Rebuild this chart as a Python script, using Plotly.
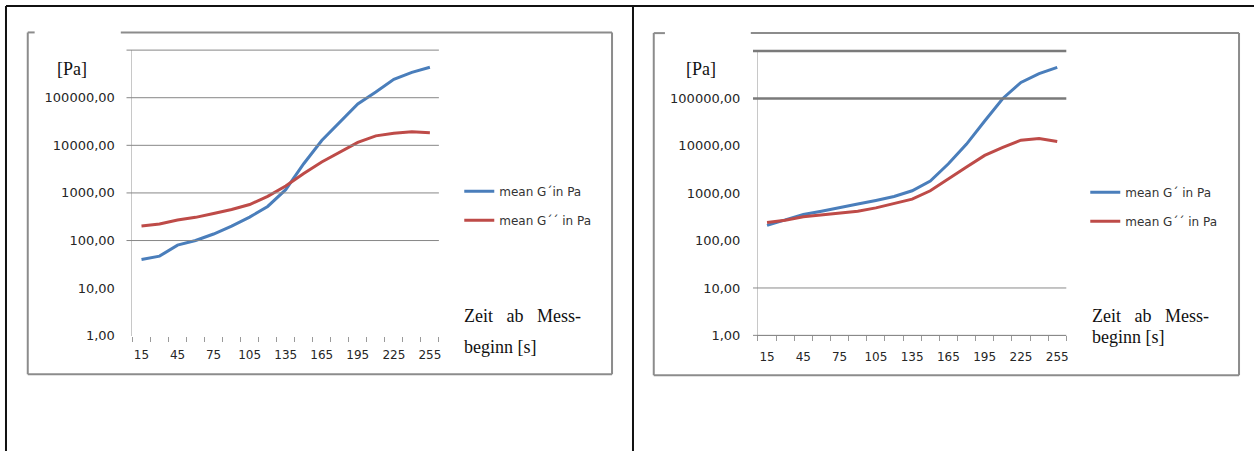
import plotly.graph_objects as go

W, H = 1256, 459

# Time since start of measurement [s]
time_s = [15, 30, 45, 60, 75, 90, 105, 120, 135, 150, 165, 180, 195, 210, 225, 240, 255]

# Left sample: mean storage (G') and loss (G'') modulus in Pa
left_g_storage = [40, 47, 80, 100, 137, 200, 310, 520, 1170, 4100, 12600, 30000,
                  74000, 132000, 244000, 340000, 437000]
left_g_loss = [203, 222, 270, 307, 371, 450, 570, 850, 1400, 2560, 4470, 7200,
               11500, 15800, 18000, 19300, 18400]

# Right sample
right_g_storage = [210, 272, 357, 418, 489, 590, 705, 855, 1126, 1810, 4190, 10900,
                   33500, 100000, 218000, 335000, 455000]
right_g_loss = [240, 268, 318, 350, 374, 418, 490, 600, 750, 1125, 2040, 3580,
                6280, 9300, 13200, 14300, 12400]

left_names = ["mean G\u00b4in Pa", "mean G\u00b4\u00b4 in Pa"]
right_names = ["mean G\u00b4 in Pa", "mean G\u00b4\u00b4 in Pa"]

y_tickvals = [1, 10, 100, 1000, 10000, 100000]
y_ticktext = ["1,00", "10,00", "100,00", "1000,00", "10000,00", "100000,00"]
x_tickvals = [15, 45, 75, 105, 135, 165, 195, 225, 255]

BLUE = "#4a7ebb"
RED = "#be4b48"


def px(x):
    return x / W


def py(y):
    return 1 - y / H


fig = go.Figure()

fig.add_trace(go.Scatter(x=time_s, y=left_g_storage, mode="lines", name=left_names[0],
                         line=dict(color=BLUE, width=3), xaxis="x", yaxis="y",
                         legend="legend", legendgroup="a"))
fig.add_trace(go.Scatter(x=time_s, y=left_g_loss, mode="lines", name=left_names[1],
                         line=dict(color=RED, width=3), xaxis="x", yaxis="y",
                         legend="legend", legendgroup="b"))
fig.add_trace(go.Scatter(x=time_s, y=right_g_storage, mode="lines", name=right_names[0],
                         line=dict(color=BLUE, width=3), xaxis="x2", yaxis="y2",
                         legend="legend2", legendgroup="c"))
fig.add_trace(go.Scatter(x=time_s, y=right_g_loss, mode="lines", name=right_names[1],
                         line=dict(color=RED, width=3), xaxis="x2", yaxis="y2",
                         legend="legend2", legendgroup="d"))

tick_font = dict(family="DejaVu Sans", size=12, color="#262626")


def xaxis_cfg(domain, anchor, show_line):
    return dict(
        domain=domain, anchor=anchor, range=[7.5, 262.5],
        tickmode="array", tickvals=x_tickvals, ticks="", showgrid=False,
        zeroline=False, showline=show_line, linecolor="#8a8a8a", linewidth=1,
        tickfont=tick_font, ticklabelstandoff=10,
        minor=dict(tick0=7.5, dtick=15, ticks="outside", ticklen=5,
                   tickcolor="#9a9a9a", tickwidth=1, showgrid=False),
    )


def yaxis_cfg(domain, anchor):
    return dict(
        domain=domain, anchor=anchor, type="log", range=[0, 6],
        tickmode="array", tickvals=y_tickvals, ticktext=y_ticktext, ticks="",
        showgrid=False, zeroline=False, showline=True, linecolor="#c8c8c8",
        linewidth=1, tickfont=dict(family="DejaVu Sans", size=13, color="#262626"),
        ticklabelstandoff=14,
    )


fig.update_layout(
    width=W, height=H, margin=dict(l=0, r=0, t=0, b=0),
    paper_bgcolor="white", plot_bgcolor="white",
    xaxis=xaxis_cfg([px(132.7), px(439.6)], "y", False),
    yaxis=yaxis_cfg([py(341.7), py(51)], "x"),
    xaxis2=xaxis_cfg([px(759.2), px(1068)], "y2", True),
    yaxis2=yaxis_cfg([py(341.3), py(52)], "x2"),
    legend=dict(x=px(460), y=py(180), xanchor="left", yanchor="top",
                font=dict(family="DejaVu Sans", size=12, color="#333333"),
                bgcolor="rgba(0,0,0,0)", tracegroupgap=10, itemwidth=30),
    legend2=dict(x=px(1087), y=py(181), xanchor="left", yanchor="top",
                 font=dict(family="DejaVu Sans", size=12, color="#333333"),
                 bgcolor="rgba(0,0,0,0)", tracegroupgap=10, itemwidth=30),
    showlegend=True,
)

shapes = []

# Horizontal gridlines per decade (with the short outer tick left of the axis)
left_grid = [2, 3, 4, 5, 6]
right_grid = [(0, 1, "#8a8a8a"), (1, 1, "#8a8a8a"), (5, 2.5, "#7a7a7a"), (6, 2.5, "#7a7a7a")]
for k in left_grid:
    shapes.append(dict(type="line", xref="x domain", yref="y domain",
                       x0=-6 / 307, x1=1, y0=k / 6, y1=k / 6,
                       line=dict(color="#878787", width=1)))
for k, w, c in right_grid:
    shapes.append(dict(type="line", xref="x2 domain", yref="y2 domain",
                       x0=-5 / 309, x1=1, y0=k / 6, y1=k / 6,
                       line=dict(color=c, width=w)))


def frame(x0, x1, y0, y1, gap0, gap1):
    c = dict(color="#8c8c8c", width=2)
    segs = [
        (x0, y0, gap0, y0), (gap1, y0, x1, y0),
        (x0, y0, x0, y1), (x1, y0, x1, y1), (x0, y1, x1, y1),
    ]
    return [dict(type="line", xref="paper", yref="paper", x0=px(a), y0=py(b),
                 x1=px(c2), y1=py(d), line=c) for a, b, c2, d in segs]


shapes += frame(27.8, 613, 33, 381, 34.7, 121)
shapes += frame(654.8, 1241, 33.7, 382, 666, 752)

# Outer page rules
black = dict(color="#111111", width=2)
for a, b, c2, d in [(6, 6, W, 6), (6, 6, 6, H), (634, 6, 634, H)]:
    shapes.append(dict(type="line", xref="paper", yref="paper", x0=px(a), y0=py(b),
                       x1=px(c2), y1=py(d), line=black))

fig.update_layout(shapes=shapes)

serif = dict(family="Liberation Serif", size=18, color="#111111")
nb = "\u00a0"
annotations = []
for cx, zx, zy1, zy2 in [(72, 463, 322, 353), (702.5, 1092, 322, 343)]:
    annotations.append(dict(text="[Pa]", x=px(cx), y=py(70), xref="paper", yref="paper",
                            showarrow=False, font=serif, xanchor="center", yanchor="middle"))
    annotations.append(dict(text=f"Zeit{nb*3}ab{nb*3}Mess-", x=px(zx), y=py(zy1),
                            xref="paper", yref="paper", showarrow=False, font=serif,
                            xanchor="left", yanchor="middle"))
    annotations.append(dict(text="beginn [s]", x=px(zx), y=py(zy2), xref="paper",
                            yref="paper", showarrow=False, font=serif,
                            xanchor="left", yanchor="middle"))
fig.update_layout(annotations=annotations)

fig.write_html("out.html")
